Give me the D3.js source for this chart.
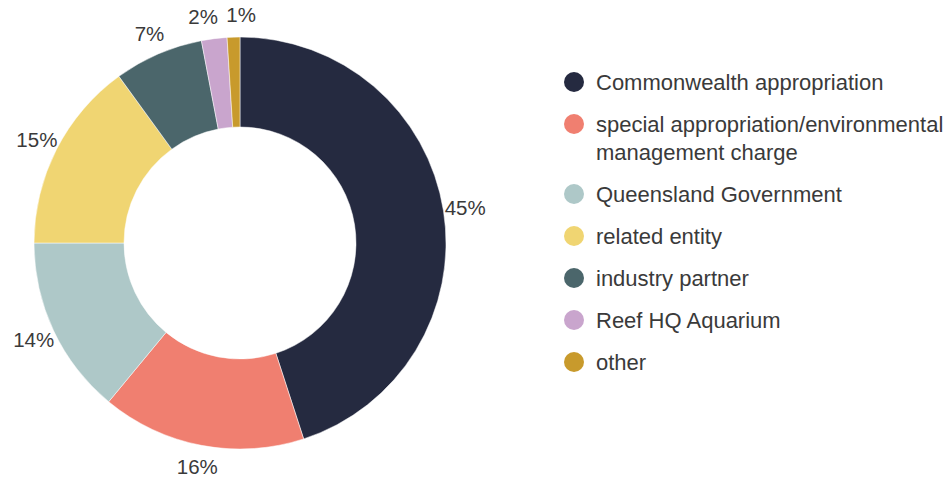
<!DOCTYPE html>
<html>
<head>
<meta charset="utf-8">
<script src="https://cdn.jsdelivr.net/npm/d3@7"></script>
<style>
  body { margin: 0; background: #fff; }
  text { font-family: "Liberation Sans", Arial, sans-serif; fill: #3a3a3a; }
</style>
</head>
<body>
<svg id="chart" width="948" height="481"></svg>
<script>
// funding sources, share of revenue (%)
var categories = ['Commonwealth appropriation',
  'special appropriation/environmental management charge',
  'Queensland Government', 'related entity', 'industry partner',
  'Reef HQ Aquarium', 'other']
var legendLines = [['Commonwealth appropriation'],
  ['special appropriation/environmental', 'management charge'],
  ['Queensland Government'], ['related entity'], ['industry partner'],
  ['Reef HQ Aquarium'], ['other']]
var values = [45, 16, 14, 15, 7, 2, 1]
var colors = ['#252a40', '#f07f70', '#aec8c8', '#f0d572', '#4b666b', '#c9a5cd', '#c89a2c']

var data = categories.map(function (c, i) {
  return {name: c, value: values[i], lines: legendLines[i]}
})

var cx = 240, cy = 243
var outer = 206, inner = 116, labelR = 228

var svg = d3.select('#chart')

var color = d3.scaleOrdinal().domain(categories).range(colors)

var pie = d3.pie().sort(null).value(function (d) { return d.value })
var arc = d3.arc().innerRadius(inner).outerRadius(outer)
var labelArc = d3.arc().innerRadius(labelR).outerRadius(labelR)

var g = svg.append('g').attr('transform', 'translate(' + cx + ',' + cy + ')')

var arcs = pie(data)

g.selectAll('path')
  .data(arcs)
  .enter().append('path')
  .attr('d', arc)
  .attr('fill', function (d) { return color(d.data.name) })
  .attr('stroke', '#fff')
  .attr('stroke-width', 0.5)

// label positions, with neighbours that collide pushed apart sideways
var pos = arcs.map(function (d) { return labelArc.centroid(d) })
var minGap = 38
for (var i = 1; i < pos.length; i++) {
  var a = pos[i - 1], b = pos[i]
  if (Math.abs(a[1] - b[1]) < 20 && Math.abs(a[0] - b[0]) < minGap) {
    var mid = (a[0] + b[0]) / 2
    var left = a[0] < b[0] ? a : b, right = a[0] < b[0] ? b : a
    left[0] = mid - minGap / 2
    right[0] = mid + minGap / 2
  }
}

g.selectAll('text.pct')
  .data(arcs)
  .enter().append('text')
  .attr('class', 'pct')
  .attr('transform', function (d, i) { return 'translate(' + pos[i] + ')' })
  .attr('text-anchor', 'middle')
  .attr('dy', '0.35em')
  .style('font-size', '20.5px')
  .text(function (d) { return d.data.value + '%' })

// legend
var legend = svg.append('g').attr('transform', 'translate(574,82)')
var yPos = 0
data.forEach(function (d) {
  var item = legend.append('g').attr('transform', 'translate(0,' + yPos + ')')
  item.append('circle').attr('r', 10).attr('fill', color(d.name))
  var t = item.append('text')
    .style('font-size', '22px')
  d.lines.forEach(function (line, j) {
    t.append('tspan')
      .attr('x', 22)
      .attr('y', j * 28)
      .attr('dy', '0.35em')
      .text(line)
  })
  yPos += 42 + (d.lines.length - 1) * 28
})
</script>
</body>
</html>
